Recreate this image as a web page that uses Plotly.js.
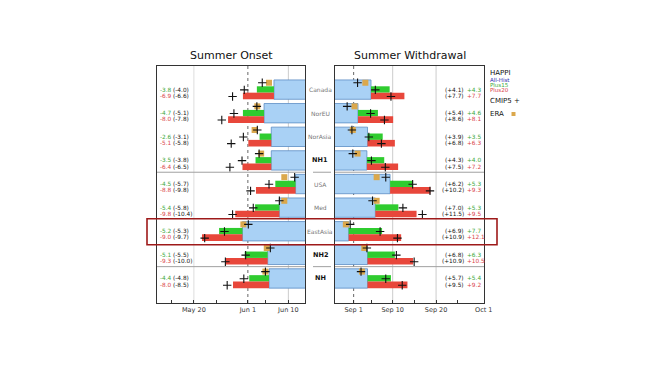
<!DOCTYPE html>
<html><head><meta charset="utf-8">
<script src="https://cdn.plot.ly/plotly-3.0.1.min.js"></script>
<style>html,body{margin:0;padding:0;background:#fff}#chart{width:658px;height:370px}</style>
</head><body><div id="chart"></div>
<script>
// Regions (top to bottom)
const regions = ['Canada','NorEU','NorAsia','NH1','USA','Med','EastAsia','NH2','NH'];
const boldRegions = ['NH1','NH2','NH'];

// Summer onset, days relative to Jun 1
const happiHistOnset = [5.8, 3.6, 5.2, 5.2, 10.6, 7.0, -1.2, 4.4, 4.7];
const plus15Onset    = [-3.8, -4.7, -2.6, -3.5, -4.5, -5.4, -5.2, -5.1, -4.4];
const plus20Onset    = [-6.9, -8.0, -5.1, -6.4, -8.8, -9.8, -9.0, -9.3, -8.0];
const eraOnset       = [4.7, 2.1, 1.5, 2.95, 8.1, 8.1, -1.0, 4.2, 3.9];
const cmipHistOnset  = [3.2, 2.0, 2.1, 2.5, 10.4, 7.0, 0.1, 5.0, 3.9];
const cmip15Onset    = [-4.0, -5.1, -3.1, -3.8, -5.7, -5.8, -5.3, -5.5, -4.8];
const cmip20Onset    = [-6.6, -7.8, -5.8, -6.5, -9.8, -10.4, -9.7, -10.0, -8.5];

// Summer withdrawal, days relative to Sep 1
const happiHistWd = [4.0, 1.0, 3.2, 3.05, 8.4, 5.0, -1.15, 3.2, 3.2];
const plus15Wd    = [4.3, 4.6, 3.5, 4.0, 5.3, 5.3, 7.7, 6.3, 5.4];
const plus20Wd    = [7.7, 8.1, 6.3, 7.2, 9.3, 9.5, 12.1, 10.5, 9.2];
const eraWd       = [2.7, 0.2, -0.2, 0.9, 5.3, 5.3, -1.8, 2.45, 1.9];
const cmipHistWd  = [0.9, -1.5, -0.4, -0.2, 7.4, 4.35, -0.8, 3.05, 1.7];
const cmip15Wd    = [4.1, 5.4, 3.9, 4.3, 6.2, 7.0, 6.9, 6.8, 5.7];
const cmip20Wd    = [7.7, 8.6, 6.8, 7.5, 10.2, 11.5, 10.9, 10.9, 9.5];

// Axis ticks
const onsetTickVals = [-17, -12, -7, 0, 4, 9];
const onsetTickText = ['', 'May 20', '', 'Jun 1', '', 'Jun 10'];
const wdTickVals = [0, 4, 9, 14, 19, 24, 30];
const wdTickText = ['Sep 1', '', 'Sep 10', '', 'Sep 20', '', 'Oct 1'];

// styles
const FONT = 'DejaVu Sans, Arial, sans-serif';
const BLUE = '#a9d1f5', BLUE_LINE = '#5c8dc4';
const GREEN = '#2fcc2f', RED = '#e8473b';
const GREEN_TXT = '#3aa83a', RED_TXT = '#d9434a';
const GOLD = '#dba84c';
const EDGE = 60;
const rows = regions.map((_, i) => i);

function panel(hist, d15, d20, era, cHist, c15, c20, dir, xa, ya) {
  const t = [];
  t.push({type:'bar', orientation:'h', y: rows, x: rows.map(() => dir * EDGE), base: hist,
    width: 0.82, offset: -0.41, marker:{color: BLUE, line:{color: BLUE_LINE, width: 0.8}},
    xaxis: xa, yaxis: ya, hoverinfo:'skip'});
  t.push({type:'bar', orientation:'h', y: rows, x: d15, base: hist, width: 0.27, offset: -0.14,
    marker:{color: GREEN, line:{width:0}}, xaxis: xa, yaxis: ya, hoverinfo:'skip'});
  t.push({type:'bar', orientation:'h', y: rows, x: d20, base: hist, width: 0.28, offset: 0.13,
    marker:{color: RED, line:{width:0}}, xaxis: xa, yaxis: ya, hoverinfo:'skip'});
  t.push({type:'scatter', mode:'markers', x: era, y: rows.map(r => r - 0.29),
    marker:{symbol:'square', size: 6, color: GOLD, line:{width:0}}, xaxis: xa, yaxis: ya, hoverinfo:'skip'});
  t.push({type:'scatter', mode:'markers',
    x: [...cHist, ...cHist.map((h, i) => h + c15[i]), ...cHist.map((h, i) => h + c20[i])],
    y: [...rows.map(r => r - 0.29), ...rows.map(r => r + 0.01), ...rows.map(r => r + 0.29)],
    marker:{symbol:'cross-thin', size: 6, color:'#111', line:{color:'#111', width: 1.1}},
    xaxis: xa, yaxis: ya, hoverinfo:'skip'});
  return t;
}

const data = [
  ...panel(happiHistOnset, plus15Onset, plus20Onset, eraOnset, cmipHistOnset, cmip15Onset, cmip20Onset, 1, 'x', 'y'),
  ...panel(happiHistWd, plus15Wd, plus20Wd, eraWd, cmipHistWd, cmip15Wd, cmip20Wd, -1, 'x2', 'y2')
];

const fmt = v => v.toFixed(1);
const fmtS = v => (v > 0 ? '+' : '') + v.toFixed(1);
const ann = [];
// Titles
ann.push({xref:'x domain', yref:'paper', x:0.5, y:1.046, text:'Summer Onset', showarrow:false,
  font:{family:FONT, size:11, color:'#111'}, xanchor:'center', yanchor:'middle'});
ann.push({xref:'x2 domain', yref:'paper', x:0.5, y:1.046, text:'Summer Withdrawal', showarrow:false,
  font:{family:FONT, size:11, color:'#111'}, xanchor:'center', yanchor:'middle'});

const NS = 5.8;
rows.forEach(i => {
  const base = {showarrow:false, borderpad:0, borderwidth:0, yanchor:'middle'};
  // left panel numbers
  ann.push({...base, xref:'x domain', yref:'y', x:0.018, y:i+0.0, xanchor:'left', text: fmt(plus15Onset[i]), font:{family:FONT, size:NS, color:GREEN_TXT}});
  ann.push({...base, xref:'x domain', yref:'y', x:0.018, y:i+0.26, xanchor:'left', text: fmt(plus20Onset[i]), font:{family:FONT, size:NS, color:RED_TXT}});
  ann.push({...base, xref:'x domain', yref:'y', x:0.108, y:i+0.0, xanchor:'left', text: '(' + fmt(cmip15Onset[i]) + ')', font:{family:FONT, size:NS, color:'#111'}});
  ann.push({...base, xref:'x domain', yref:'y', x:0.108, y:i+0.26, xanchor:'left', text: '(' + fmt(cmip20Onset[i]) + ')', font:{family:FONT, size:NS, color:'#111'}});
  // right panel numbers
  ann.push({...base, xref:'x2 domain', yref:'y2', x:0.868, y:i+0.0, xanchor:'right', text: '(' + fmtS(cmip15Wd[i]) + ')', font:{family:FONT, size:NS, color:'#111'}});
  ann.push({...base, xref:'x2 domain', yref:'y2', x:0.868, y:i+0.26, xanchor:'right', text: '(' + fmtS(cmip20Wd[i]) + ')', font:{family:FONT, size:NS, color:'#111'}});
  ann.push({...base, xref:'x2 domain', yref:'y2', x:0.886, y:i+0.0, xanchor:'left', text: fmtS(plus15Wd[i]), font:{family:FONT, size:NS, color:GREEN_TXT}});
  ann.push({...base, xref:'x2 domain', yref:'y2', x:0.886, y:i+0.26, xanchor:'left', text: fmtS(plus20Wd[i]), font:{family:FONT, size:NS, color:RED_TXT}});
  // region label
  const b = boldRegions.includes(regions[i]);
  ann.push({...base, xref:'paper', yref:'y', x:0.4985, y:i, xanchor:'center', text: b ? '<b>' + regions[i] + '</b>' : regions[i],
    font:{family:FONT, size: b ? 6.5 : 6, color: b ? '#111' : '#777'}});
});

// legend text
const lx = (490 - 157) / 327;
const py = p => (303 - p) / 237;
const leg = (y, text, size, color) => ({xref:'paper', yref:'paper', x:lx, y:py(y), text, showarrow:false, xanchor:'left', yanchor:'middle', borderpad:0, borderwidth:0, font:{family:FONT, size, color}});
ann.push(leg(73, 'HAPPI', 7, '#111'));
ann.push(leg(79.5, 'All-Hist', 5.5, '#2a2ab0'));
ann.push(leg(85, 'Plus15', 5.5, GREEN_TXT));
ann.push(leg(90.5, 'Plus20', 5.5, RED_TXT));
ann.push(leg(101, 'CMIP5 +', 7, '#111'));
ann.push(leg(114, 'ERA', 7, '#111'));

const shapes = [];
// vertical reference lines
const vline = (xr, yr, x, color, dash) => ({type:'line', xref:xr, yref:yr + ' domain', x0:x, x1:x, y0:0, y1:1, layer:'below', line:{color, width:1, dash}});
shapes.push(vline('x', 'y', -12, '#dddddd', 'solid'));
shapes.push(vline('x', 'y', 0, '#666666', 'dot'));
shapes.push(vline('x', 'y', 9, '#cccccc', 'solid'));
shapes.push(vline('x2', 'y2', 0, '#666666', 'dot'));
shapes.push(vline('x2', 'y2', 9, '#cccccc', 'solid'));
shapes.push(vline('x2', 'y2', 19, '#cccccc', 'solid'));
// horizontal separators
[3.5, 7.5].forEach(s => {
  shapes.push({type:'line', xref:'x domain', yref:'y', x0:0, x1:1, y0:s, y1:s, line:{color:'#a0a0a0', width:1}});
  shapes.push({type:'line', xref:'x2 domain', yref:'y2', x0:0, x1:1, y0:s, y1:s, line:{color:'#a0a0a0', width:1}});
  shapes.push({type:'line', xref:'paper', yref:'y', x0:(313-157)/327, x1:(331-157)/327, y0:s, y1:s, line:{color:'#a0a0a0', width:1}});
});
// highlight box around EastAsia
shapes.push({type:'rect', xref:'paper', yref:'y', x0:(147-157)/327, x1:(497-157)/327, y0:5.47, y1:6.57, line:{color:'#9e1a1a', width:1.6}, fillcolor:'rgba(0,0,0,0)'});
// ERA legend swatch
shapes.push({type:'rect', xref:'paper', yref:'paper', x0:(511.5-157)/327, x1:(515.5-157)/327, y0:py(116), y1:py(112), line:{width:0}, fillcolor:GOLD});

const yax = {range:[9.04, -1.0], showline:true, mirror:true, linecolor:'#333', linewidth:1, showticklabels:false, ticks:'', showgrid:false, zeroline:false, fixedrange:true};
const xbase = {showline:true, mirror:true, linecolor:'#333', linewidth:1, showgrid:false, zeroline:false, ticks:'inside', ticklen:3, tickcolor:'#333', tickfont:{family:FONT, size:6.5, color:'#333'}, fixedrange:true};

const layout = {
  width:658, height:370,
  margin:{l:157, r:174, t:66, b:67, pad:0},
  paper_bgcolor:'#fff', plot_bgcolor:'#fff',
  showlegend:false, barmode:'overlay',
  xaxis:{...xbase, domain:[0, 148/327], range:[-20.2, 12.7], tickvals:onsetTickVals, ticktext:onsetTickText, anchor:'y'},
  yaxis:{...yax, anchor:'x'},
  xaxis2:{...xbase, domain:[178/327, 1], range:[-4.3, 30.05], tickvals:wdTickVals, ticktext:wdTickText, anchor:'y2'},
  yaxis2:{...yax, anchor:'x2'},
  annotations: ann, shapes: shapes
};
Plotly.newPlot('chart', data, layout, {staticPlot:true, displayModeBar:false});
</script></body></html>
